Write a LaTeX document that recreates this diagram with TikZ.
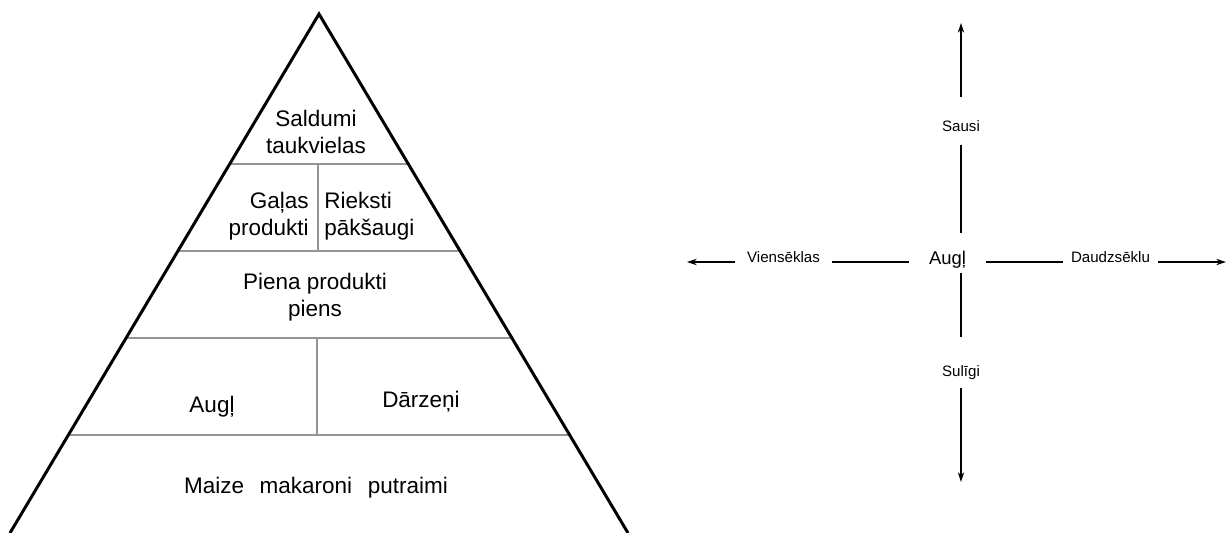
\documentclass[tikz,border=0pt]{standalone}
\usepackage{fontspec}
\setmainfont{Liberation Sans}
\usetikzlibrary{arrows.meta,positioning,calc}

\begin{document}
\begin{tikzpicture}[x=0.02cm, y=-0.02cm, >={Stealth[length=5.5pt, width=3.6pt]},
    pyr/.style={line width=1.7pt, line join=miter},
    tier/.style={line width=1.1pt, color=black!42},
    food/.style={font=\fontsize{12.8}{15.6}\selectfont, inner sep=0pt},
    axis/.style={line width=0.6pt},
    hlbl/.style={font=\fontsize{8.6}{10}\selectfont, inner ysep=0pt, text height=6.2pt, text depth=5.5pt},
    vlbl/.style={font=\fontsize{8.6}{10}\selectfont, inner sep=0pt, anchor=base}]
    \useasboundingbox (0,0) rectangle (1228,533);

    % --- Pyramid outline and tiers ---
    \coordinate (apex) at (319,14);
    \coordinate (bl) at (10,533);
    \coordinate (br) at (628,533);
    \foreach \t in {0.289, 0.457, 0.624, 0.811} {
        \draw[tier] ($(apex)!\t!(bl)$) -- ($(apex)!\t!(br)$);
    }
    \draw[tier] (318,164) -- (318,251);
    \draw[tier] (317,338) -- (317,435);
    \draw[pyr] (bl) -- (apex) -- (br);

    % --- Pyramid labels (base = last line) ---
    \node[food, anchor=base, align=center] (sweets) at (316,154) {Saldumi\\taukvielas};
    \node[food, anchor=base east, align=right] (meat) at (309,236) {Gaļas\\produkti};
    \node[food, anchor=base west, align=left] (nuts) at (324,236) {Rieksti\\pākšaugi};
    \node[food, anchor=base, align=center] (dairy) at (315,317) {Piena produkti\\piens};
    \node[food, anchor=base] (fruit) at (212,413) {Augļ};
    \node[food, anchor=base] (veg) at (421,408) {Dārzeņi};
    \node[food, anchor=base] (grain) at (316,494) {Maize\hspace{0.7em}makaroni\hspace{0.7em}putraimi};

    % --- Axes around the centre word ---
    \node[font=\fontsize{10.5}{12}\selectfont, inner xsep=11pt, inner ysep=0pt,
        text height=18pt, text depth=4.5pt, anchor=base] (augl) at (947.5,265) {Augļ};
    \node[hlbl, inner xsep=6.5pt] (viens) at (783.5,262) {Viensēklas};
    \node[hlbl, inner xsep=4.3pt] (daudz) at (1110.5,262) {Daudzsēklu};
    \node[vlbl, text height=20pt, text depth=7pt] (sausi) at (961,132) {Sausi};
    \node[vlbl, text height=22.7pt, text depth=6.2pt] (suligi) at (961,377) {Sulīgi};
    \coordinate (lend) at (687,262);
    \coordinate (rend) at (1226,262);
    \coordinate (tend) at (961,23);
    \coordinate (bend) at (961,482);

    \draw[axis, ->] (viens.west) -- (lend);
    \draw[axis] (viens.east) -- (viens.east -| augl.west);
    \draw[axis] (daudz.west -| augl.east) -- (daudz.west);
    \draw[axis, ->] (daudz.east) -- (rend);
    \draw[axis, ->] (sausi.north) -- (tend);
    \draw[axis] (sausi.south) -- (sausi.south |- augl.north);
    \draw[axis] (suligi.north |- augl.south) -- (suligi.north);
    \draw[axis, ->] (suligi.south) -- (bend);
\end{tikzpicture}
\end{document}
